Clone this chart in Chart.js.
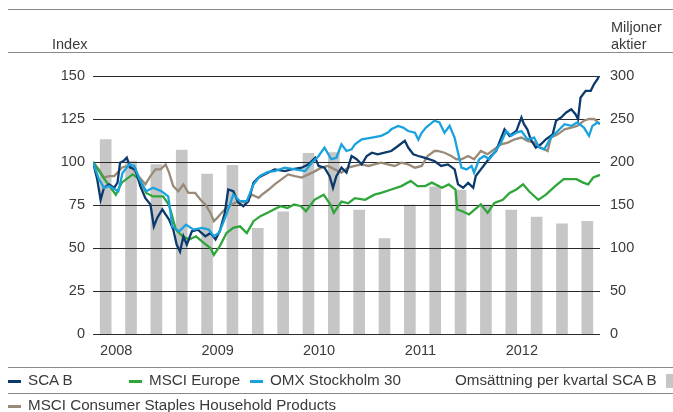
<!DOCTYPE html>
<html><head><meta charset="utf-8">
<script src="https://cdn.jsdelivr.net/npm/chart.js@4/dist/chart.umd.min.js"></script>
<style>
html,body{margin:0;padding:0;background:#fff;}
#wrap{position:relative;width:673px;height:412px;overflow:hidden;font-family:"Liberation Sans",Arial,sans-serif;color:#3a3a3a;}
canvas{position:absolute;left:0;top:0;}
.hl{position:absolute;left:8px;right:0;height:1px;background:#8a8a8a;}
.t{position:absolute;font-size:14.5px;white-space:nowrap;line-height:17px;}
.lt{position:absolute;font-size:15.2px;white-space:nowrap;line-height:18px;}
.dash{position:absolute;width:13px;height:3px;}
.sq{position:absolute;width:12px;height:14px;background:#c6c6c6;}
</style></head>
<body><div id="wrap">
<canvas id="c" width="673" height="412"></canvas>
<div class="hl" style="top:9px"></div>
<div class="hl" style="top:52px"></div>
<div class="t" style="left:52px;top:36px">Index</div>
<div class="t" style="left:611px;top:19px">Miljoner</div>
<div class="t" style="left:611px;top:36px">aktier</div>
<div class="hl" style="top:367px"></div>
<div class="hl" style="top:393px"></div>
<div id="legend"></div>
</div>
<script>
// ---- data ----  (x = months since 1 Jan 2008)
const yearLabels = ['2008','2009','2010','2011','2012'];
const yearTickMonths = [2.75, 14.75, 26.75, 38.75, 50.75];
const turnoverQuarterly = [226,201,197,214,186,196,123,142,210,211,144,111,150,171,167,150,144,136,128,131]; // miljoner aktier, kvartal 1 2008 – kvartal 4 2012
const scaB = [[0,100],[0.5,90],[0.9,78],[1.3,85],[1.9,87],[2.5,85],[2.9,88],[3.2,99.6],[3.6,100.6],[4.0,102.5],[4.4,96.7],[5.0,95.7],[5.6,86],[6.2,79],[6.8,75.3],[7.2,62.6],[7.6,67.5],[8.2,72.4],[9.0,66.5],[9.5,60.7],[9.9,52],[10.3,48],[10.7,56.8],[11.1,52],[11.7,59.7],[12.4,60.7],[13.3,56.8],[13.9,58.7],[14.5,55],[15.0,59.7],[15.6,70.4],[16.0,84],[16.6,83],[17.2,76.3],[17.8,74.3],[18.4,77.2],[19.0,88],[19.6,91],[20.4,93],[21.5,95.7],[22.7,94.7],[23.5,95.7],[24.7,96.7],[25.5,98.6],[26.3,102.5],[26.7,97.7],[27.4,96.7],[28.0,91.8],[28.4,85],[28.8,91.8],[29.4,96.7],[30.0,93.8],[30.6,103.5],[31.2,101.6],[31.8,98.6],[32.4,103.5],[33.0,105.4],[33.7,104.5],[34.5,105.4],[35.3,106.4],[36.1,109.3],[36.9,112.3],[37.3,108.4],[37.9,104.5],[38.5,103.5],[39.2,102.5],[40.4,100.6],[41.2,97.7],[42.0,98.6],[42.8,95.7],[43.2,87],[43.8,85],[44.4,87.9],[45.0,85],[45.3,91.8],[45.9,95.7],[46.5,99.6],[47.1,103.5],[47.7,106.4],[48.7,119],[49.3,115.2],[50.1,118],[50.7,125.9],[51.0,122],[51.4,119],[51.8,113.2],[52.4,108.4],[53.0,110.3],[53.6,113.2],[54.4,116.1],[54.8,124],[55.4,125.9],[56.0,128.8],[56.6,130.7],[57.1,127.8],[57.4,124.9],[57.7,137.5],[58.3,141.4],[58.9,141.4],[59.3,145.3],[59.7,148.2],[60,151.2]];
const msciEurope = [[0,100],[1.1,91.8],[2.7,81],[3.4,88],[4.7,92.8],[5.5,90],[6.3,82],[7.1,80],[8.3,80],[9.0,75],[9.8,60.7],[10.6,56.8],[11.4,54.9],[12.2,56.8],[13.1,53],[13.9,50],[14.3,46],[15.0,51],[15.8,58.7],[16.6,61.7],[17.4,62.6],[18.2,58.7],[19.0,65.6],[19.8,68.5],[20.6,70.4],[21.4,72.4],[22.2,74.3],[23.0,73.3],[23.8,75.3],[24.6,74.3],[25.2,71.4],[26.2,78],[27.3,81],[28.1,75.3],[28.5,70.4],[29.4,77],[30.2,76],[31.0,79],[32.2,78],[33.3,81],[34.1,82],[35.3,84],[36.5,86],[37.6,89],[38.4,86],[39.3,86],[40.1,88],[41.3,85],[42.1,87],[42.9,84],[43.1,72.4],[43.7,71.4],[44.5,69.5],[45.2,72.4],[45.9,75.3],[46.7,70.4],[47.5,76.2],[48.5,78],[49.3,82],[50.1,84],[50.9,87],[51.6,83],[52.7,78],[53.6,81],[54.7,86],[55.7,90],[56.5,90],[57.2,90],[58.0,88],[58.6,87],[59.2,91],[60,92.5]];
const omxS30 = [[0,100],[0.7,90],[1.3,85],[1.9,86],[3.0,83],[3.5,93.8],[4.3,98.6],[4.9,97.7],[5.5,90],[6.3,83],[7.1,85],[8.1,83],[8.9,80],[9.4,62.6],[10.2,59.7],[11.0,63.6],[11.9,60.7],[12.9,61.7],[13.7,60.7],[14.3,56.8],[14.9,58.7],[15.4,64.6],[16.0,72.4],[16.6,81],[17.4,77.2],[18.2,77.2],[19.0,87],[19.8,92],[20.7,94.2],[21.5,94.7],[22.7,96.7],[23.9,95.7],[25.1,94.7],[25.9,99.6],[26.7,103.5],[27.4,108.4],[28.2,101.6],[28.8,102.5],[29.4,110.3],[30.0,106.4],[30.6,107.4],[31.0,110.3],[31.8,113.2],[33.0,114.2],[34.1,115.2],[34.9,117.1],[35.3,119],[36.1,121],[36.7,120],[37.3,118],[38.1,117],[38.5,113],[38.9,117],[39.4,120],[40.4,124],[41.0,123],[41.6,117],[42.2,121],[42.8,114],[43.2,105.4],[43.6,96.7],[44.2,95.7],[44.8,97.7],[45.1,93.8],[45.7,101.6],[46.3,103.5],[46.9,101.6],[47.5,105.4],[48.3,111.3],[48.9,118],[49.5,115.2],[50.1,117.1],[50.7,118],[51.0,116],[51.4,113.2],[52.2,114.2],[52.8,108.4],[53.4,107.4],[54.2,114.2],[55.0,118],[55.8,122],[56.6,121],[57.3,123],[58.1,120],[58.7,115.2],[59.1,121],[59.7,123],[60,122]];
const msciHousehold = [[0,100],[0.7,95.7],[1.3,90.9],[1.9,91.8],[2.5,91.8],[2.9,93.8],[3.4,96.7],[4.0,97.7],[4.6,96.7],[5.4,91.8],[6.2,87],[6.8,91.8],[7.4,95.7],[8.0,95.7],[8.6,98.6],[9.0,93.8],[9.5,86],[10.1,83],[10.7,87],[11.3,82],[12.1,82],[12.7,78.2],[13.3,75.3],[13.9,70.4],[14.3,65.6],[14.7,67.5],[15.2,70.4],[15.8,73.3],[16.4,75.3],[17.2,77.2],[18.0,76.3],[18.8,81],[19.6,79.2],[20.0,81],[20.8,84],[21.5,87],[22.3,89.9],[23.1,92.8],[23.9,91.8],[24.7,90.9],[25.5,92.8],[26.3,94.7],[27.0,96.7],[27.8,97.7],[28.6,95.7],[29.4,93.8],[30.2,96.7],[31.0,97.7],[31.8,98.6],[32.6,97.7],[33.3,98.6],[34.1,99.6],[34.9,98.6],[35.7,97.7],[36.5,99.6],[37.3,98.6],[38.1,96.7],[38.9,97.7],[39.6,103.5],[40.4,106.4],[40.8,106.4],[41.6,105.4],[42.4,103.5],[43.0,101.6],[43.6,101.6],[44.4,103.5],[45.1,101.6],[45.9,106.4],[46.7,104.5],[47.5,107.4],[48.3,110.3],[49.1,111.3],[49.9,113.2],[50.7,114.2],[51.4,112.3],[52.2,111.3],[53.0,108.4],[53.8,106.4],[54.2,114.2],[55.0,116.1],[55.8,119],[56.6,120],[57.3,121],[58.1,124],[58.7,125],[59.3,125],[60,122]];

const seriesNames = ['SCA B','MSCI Europe','OMX Stockholm 30','Omsättning per kvartal SCA B','MSCI Consumer Staples Household Products'];
const colors = {sca:'#0c3a6c', eur:'#2ea63a', omx:'#1aa2df', hh:'#9a8b79', bar:'#c6c6c6'};

const toPts = a => a.map(p => ({x:p[0], y:p[1]}));
const lineDs = (label, data, color, order) => ({type:'line', label, data:toPts(data), borderColor:color, backgroundColor:color, borderWidth:2.3, pointRadius:0, tension:0, yAxisID:'y', xAxisID:'x', order});

// gridlines drawn after the bars, before the lines
const gridAfterBars = {
  id:'gridAfterBars',
  afterDatasetDraw(chart, args){
    if (args.meta.type !== 'bar') return;
    const {ctx, chartArea, scales} = chart;
    const y = scales.y;
    ctx.save();
    ctx.lineWidth = 1;
    ctx.strokeStyle = '#2a2a2a';
    y.ticks.forEach(t => {
      const py = Math.round(y.getPixelForValue(t.value)) + 0.5;
      ctx.beginPath();
      ctx.moveTo(chartArea.left, py);
      ctx.lineTo(chartArea.right, py);
      ctx.stroke();
    });
    ctx.restore();
  }
};

const tickFont = {family:'"Liberation Sans", Arial, sans-serif', size:14.5};
new Chart(document.getElementById('c'), {
  data:{datasets:[
    lineDs(seriesNames[2], omxS30, colors.omx, 0),
    lineDs(seriesNames[0], scaB, colors.sca, 1),
    lineDs(seriesNames[1], msciEurope, colors.eur, 2),
    lineDs(seriesNames[4], msciHousehold, colors.hh, 3),
    {type:'bar', label:seriesNames[3], data:turnoverQuarterly.map((v,i)=>({x:i*3+1.5, y:v})), backgroundColor:colors.bar, barThickness:11, yAxisID:'y2', xAxisID:'x', order:10}
  ]},
  options:{
    responsive:false, animation:false, events:[],
    layout:{padding:{top:76, left:0, right:0, bottom:0}},
    plugins:{legend:{display:false}, tooltip:{enabled:false}},
    scales:{
      x:{type:'linear', min:0, max:60, offset:false, position:'bottom',
         grid:{display:false, drawTicks:false, offset:false}, border:{display:false},
         afterBuildTicks(s){ s.ticks = yearTickMonths.map(v=>({value:v})); },
         afterFit(s){ s.height = 78; },
         ticks:{font:tickFont, color:'#3a3a3a', padding:8, maxRotation:0, autoSkip:false,
           callback(v){ const i = yearTickMonths.indexOf(v); return i>=0 ? yearLabels[i] : ''; }}},
      y:{type:'linear', position:'left', min:0, max:150,
         grid:{display:false, drawTicks:false}, border:{display:false},
         afterFit(s){ s.width = 93; },
         ticks:{stepSize:25, font:tickFont, color:'#3a3a3a', padding:8}},
      y2:{type:'linear', position:'right', min:0, max:300,
         grid:{display:false, drawTicks:false}, border:{display:false},
         afterFit(s){ s.width = 73; },
         ticks:{stepSize:50, font:tickFont, color:'#3a3a3a', padding:10}}
    }
  },
  plugins:[gridAfterBars]
});

// legend (HTML text)
const legendItems = [
  {name:seriesNames[0], color:colors.sca, x:8, row:0},
  {name:seriesNames[1], color:colors.eur, x:129, row:0},
  {name:seriesNames[2], color:colors.omx, x:250, row:0},
  {name:seriesNames[3], color:colors.bar, x:455, row:0, box:true},
  {name:seriesNames[4], color:colors.hh, x:8, row:1}
];
const lg = document.getElementById('legend');
legendItems.forEach(it => {
  const top = it.row ? 396 : 371;
  if (it.box) {
    const t = document.createElement('div'); t.className='lt'; t.style.left=it.x+'px'; t.style.top=top+'px'; t.textContent=it.name; lg.appendChild(t);
    const s = document.createElement('div'); s.className='sq'; s.style.left='666px'; s.style.top=(top+3)+'px'; lg.appendChild(s);
  } else {
    const d = document.createElement('div'); d.className='dash'; d.style.left=it.x+'px'; d.style.top=(top+9)+'px'; d.style.background=it.color; lg.appendChild(d);
    const t = document.createElement('div'); t.className='lt'; t.style.left=(it.x+20)+'px'; t.style.top=top+'px'; t.textContent=it.name; lg.appendChild(t);
  }
});
</script>
</body></html>
